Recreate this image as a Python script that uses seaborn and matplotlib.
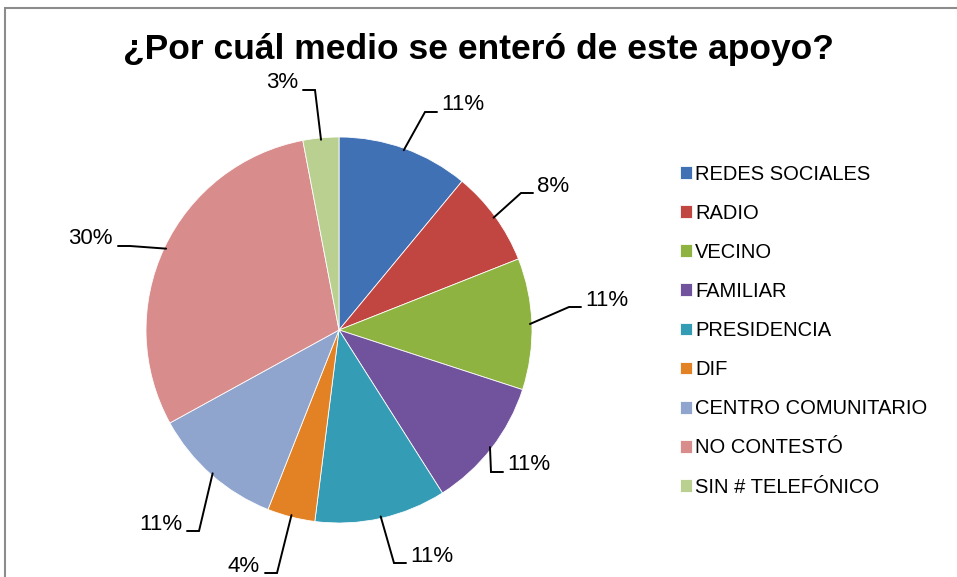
import numpy as np
import seaborn as sns
import matplotlib
matplotlib.use("Agg")
from matplotlib import pyplot as plt
from matplotlib.patches import Rectangle

# data
categories = ["REDES SOCIALES", "RADIO", "VECINO", "FAMILIAR", "PRESIDENCIA",
              "DIF", "CENTRO COMUNITARIO", "NO CONTESTÓ", "SIN # TELEFÓNICO"]
shares = [11, 8, 11, 11, 11, 4, 11, 30, 3]
colors = ["#3A6CB2", "#BF3F3A", "#8AB13A", "#6C4C99", "#2D99B3",
          "#E27E1D", "#8BA2CD", "#D88888", "#B7CF8C"]

# layout (pixels from top-left): text anchor x, text centre y, side of pie
label_pos = [(441, 105, "L"), (537, 186, "L"), (585, 300, "L"),
             (507, 465, "L"), (410, 556, "L"), (260, 566, "R"),
             (182, 524, "R"), (113, 239, "R"), (298, 83, "R")]

W, H = 957, 577
cx, cy, R = 339, 330, 193

sns.set_style("white")
plt.rcParams["font.family"] = ["Liberation Sans", "DejaVu Sans"]
plt.rcParams["text.color"] = "black"

fig = plt.figure(figsize=(W / 100, H / 100), dpi=100)
ax = fig.add_axes([0, 0, 1, 1])

wedges, _ = ax.pie(shares, colors=colors, startangle=90, counterclock=False,
                   center=(cx, H - cy), radius=R,
                   wedgeprops=dict(edgecolor="#ffffff", linewidth=0.6, alpha=0.97))
ax.set_xlim(0, W)
ax.set_ylim(0, H)
ax.axis("off")

# percentage labels with Excel-like leader lines
for w, s, (tx, ty, side) in zip(wedges, shares, label_pos):
    ang = np.deg2rad((w.theta1 + w.theta2) / 2)
    ax_x = cx + 0.99 * R * np.cos(ang)
    ax_y = (H - cy) + 0.99 * R * np.sin(ang)
    ly = H - (ty + 7)
    if side == "L":
        x_end, x_elb, ha = tx - 4, tx - 16, "left"
    else:
        x_end, x_elb, ha = tx + 5, tx + 17, "right"
    ax.plot([ax_x, x_elb, x_end], [ax_y, ly, ly], color="black", lw=1.4,
            solid_joinstyle="miter")
    ax.text(tx, H - ty, f"{s}%", ha=ha, va="center", fontsize=16, color="black")

leg = ax.legend(wedges, categories, loc="upper left",
                bbox_to_anchor=(680 / W, 1 - 164.5 / H), bbox_transform=fig.transFigure,
                frameon=False, fontsize=14.5, handlelength=0.6, handleheight=0.6,
                handletextpad=0.15, labelspacing=1.0, borderpad=0, borderaxespad=0,
                labelcolor="black")

fig.text(0.5, 1 - 50 / H, "¿Por cuál medio se enteró de este apoyo?",
         ha="center", va="center", fontsize=25.5, fontweight="bold", color="black")

fig.add_artist(Rectangle((5 / W, -0.1), 1.2, 1.1 - 8 / H, transform=fig.transFigure,
                         fill=False, edgecolor="#8c8c8c", lw=1.5))

fig.savefig("out.png", dpi=100)
